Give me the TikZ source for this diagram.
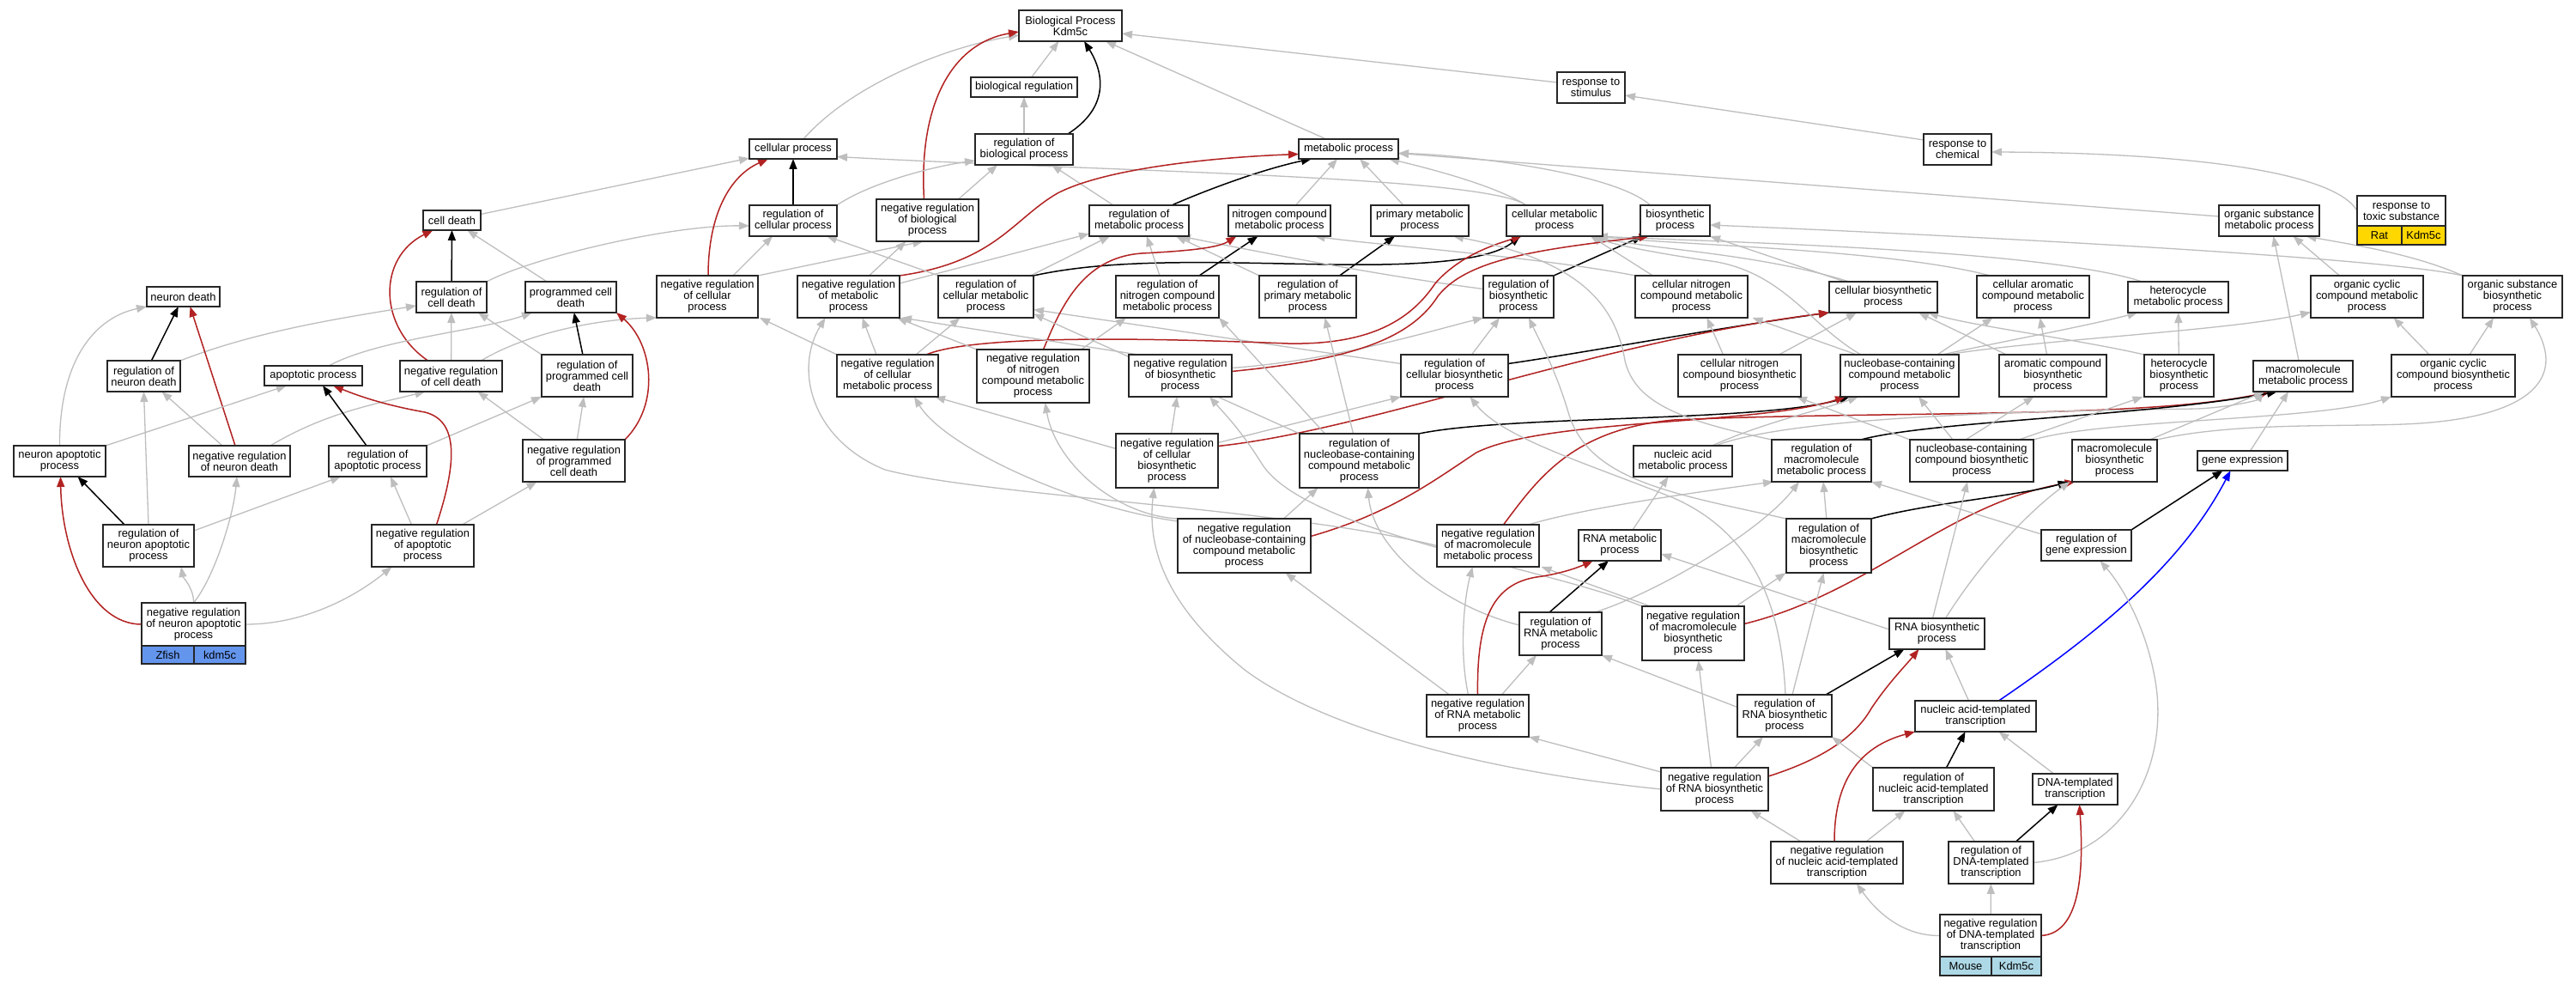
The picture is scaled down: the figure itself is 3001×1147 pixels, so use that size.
\documentclass[tikz,border=0pt]{standalone}
\usepackage{fontspec}
\setmainfont{Liberation Sans}
\usetikzlibrary{arrows.meta}
\definecolor{eg}{HTML}{BEBEBE}
\definecolor{fire}{HTML}{B22222}
\definecolor{zfish}{HTML}{6495ED}
\definecolor{mousec}{HTML}{ADD8E6}
\definecolor{ratc}{HTML}{FFD700}
\pgfdeclarelayer{bgl}
\pgfdeclarelayer{edges}
\pgfsetlayers{bgl,edges,main}
\newcommand{\gb}[7][]{%
 \pgfmathsetmacro{\gbw}{#4-#3}\pgfmathsetmacro{\gbh}{#6-#5}%
 \pgfmathsetmacro{\gbx}{(#3+#4)/2}\pgfmathsetmacro{\gby}{(#5+#6)/2}%
 \node[gbox, minimum width=\gbw pt, minimum height=\gbh pt, #1] (#2) at (\gbx,\gby) {#7};}
\begin{document}
\begin{tikzpicture}[x=1pt,y=-1pt,
 gbox/.style={draw=black!85, line width=1.4pt, fill=white, inner sep=0pt, outer sep=0pt, align=center, font=\fontsize{12.9}{13}\selectfont},
 tip/.style={-{Triangle[length=12pt,width=9pt]}},
 ge/.style={draw=eg, line width=1.3pt, tip},
 be/.style={draw=black, line width=1.5pt, tip},
 re/.style={draw=fire, line width=1.5pt, tip},
 ue/.style={draw=blue, line width=1.5pt, tip}]
\begin{pgfonlayer}{bgl}
\fill[white] (0,0) rectangle (3001,1147);
\end{pgfonlayer}
\useasboundingbox (0,0) rectangle (3001,1147);
% ---------- nodes ----------
\gb{BP}{1187}{1307}{12}{48}{Biological Process\\Kdm5c}
\gb{biolreg}{1131}{1255}{90}{113}{biological regulation}
\gb{respstim}{1814}{1893}{84}{120}{response to\\stimulus}
\gb{cellproc}{873}{975}{162}{185}{cellular process}
\gb{regbio}{1136}{1250}{156}{192}{regulation of\\biological process}
\gb{metproc}{1513}{1629}{162}{185}{metabolic process}
\gb{respchem}{2241}{2320}{156}{192}{response to\\chemical}
\gb{celldeath}{493}{560}{245}{268}{cell death}
\gb{regcell}{873}{975}{239}{275}{regulation of\\cellular process}
\gb{negbio}{1021}{1140}{232}{281}{negative regulation\\of biological\\process}
\gb{regmet}{1269}{1385}{239}{275}{regulation of\\metabolic process}
\gb{nitro}{1431}{1550}{239}{275}{nitrogen compound\\metabolic process}
\gb{primmet}{1597}{1711}{239}{275}{primary metabolic\\process}
\gb{cellmet}{1755}{1867}{239}{275}{cellular metabolic\\process}
\gb{biosyn}{1911}{1992}{239}{275}{biosynthetic\\process}
\gb{orgsubmet}{2585}{2702}{239}{275}{organic substance\\metabolic process}
\gb{toxic}{2746}{2849}{228}{263}{response to\\toxic substance}
\gb[fill=ratc]{toxicA}{2746}{2798}{263}{285}{Rat}
\gb[fill=ratc]{toxicB}{2798}{2849}{263}{285}{Kdm5c}
\gb{neurondeath}{171}{256}{334}{357}{neuron death}
\gb{regcd}{485}{567}{328}{364}{regulation of\\cell death}
\gb{pcd}{612}{718}{328}{364}{programmed cell\\death}
\gb{negcellproc}{765}{883}{321}{370}{negative regulation\\of cellular\\process}
\gb{negmet}{929}{1048}{321}{370}{negative regulation\\of metabolic\\process}
\gb{regcellmet}{1093}{1204}{321}{370}{regulation of\\cellular metabolic\\process}
\gb{regnitro}{1300}{1420}{321}{370}{regulation of\\nitrogen compound\\metabolic process}
\gb{regprim}{1467}{1580}{321}{370}{regulation of\\primary metabolic\\process}
\gb{regbiosyn}{1728}{1810}{321}{370}{regulation of\\biosynthetic\\process}
\gb{cellnitromet}{1905}{2036}{321}{370}{cellular nitrogen\\compound metabolic\\process}
\gb{cellbiosyn}{2131}{2257}{328}{364}{cellular biosynthetic\\process}
\gb{cellarom}{2303}{2434}{321}{370}{cellular aromatic\\compound metabolic\\process}
\gb{hetmet}{2479}{2596}{328}{364}{heterocycle\\metabolic process}
\gb{orgcycmet}{2692}{2823}{321}{370}{organic cyclic\\compound metabolic\\process}
\gb{orgsubbio}{2869}{2985}{321}{370}{organic substance\\biosynthetic\\process}
\gb{regnd}{125}{210}{420}{456}{regulation of\\neuron death}
\gb{apop}{308}{422}{426}{449}{apoptotic process}
\gb{negcd}{466}{585}{420}{456}{negative regulation\\of cell death}
\gb{regpcd}{631}{737}{413}{462}{regulation of\\programmed cell\\death}
\gb{negcellmet}{975}{1093}{413}{462}{negative regulation\\of cellular\\metabolic process}
\gb{negnitro}{1138}{1269}{407}{469}{negative regulation\\of nitrogen\\compound metabolic\\process}
\gb{negbiosyn}{1315}{1435}{413}{462}{negative regulation\\of biosynthetic\\process}
\gb{regcellbiosyn}{1632}{1757}{413}{462}{regulation of\\cellular biosynthetic\\process}
\gb{cellnitrobio}{1955}{2098}{413}{462}{cellular nitrogen\\compound biosynthetic\\process}
\gb{nucmet}{2144}{2282}{413}{462}{nucleobase-containing\\compound metabolic\\process}
\gb{arombio}{2329}{2454}{413}{462}{aromatic compound\\biosynthetic\\process}
\gb{hetbio}{2498}{2579}{413}{462}{heterocycle\\biosynthetic\\process}
\gb{macromet}{2625}{2741}{420}{456}{macromolecule\\metabolic process}
\gb{orgcycbio}{2786}{2930}{413}{462}{organic cyclic\\compound biosynthetic\\process}
\gb{neuronapop}{16}{123}{519}{555}{neuron apoptotic\\process}
\gb{negnd}{220}{338}{519}{555}{negative regulation\\of neuron death}
\gb{regapop}{383}{497}{519}{555}{regulation of\\apoptotic process}
\gb{negpcd}{609}{728}{512}{561}{negative regulation\\of programmed\\cell death}
\gb{negcellbiosyn}{1300}{1419}{505}{568}{negative regulation\\of cellular\\biosynthetic\\process}
\gb{regnucmet}{1514}{1653}{505}{568}{regulation of\\nucleobase-containing\\compound metabolic\\process}
\gb{nucacidmet}{1903}{2018}{519}{555}{nucleic acid\\metabolic process}
\gb{regmacromet}{2064}{2180}{512}{561}{regulation of\\macromolecule\\metabolic process}
\gb{nucbio}{2225}{2369}{512}{561}{nucleobase-containing\\compound biosynthetic\\process}
\gb{macrobio}{2414}{2513}{512}{561}{macromolecule\\biosynthetic\\process}
\gb{geneexp}{2560}{2665}{525}{548}{gene expression}
\gb{regneuronapop}{120}{226}{611}{660}{regulation of\\neuron apoptotic\\process}
\gb{negapop}{433}{552}{611}{660}{negative regulation\\of apoptotic\\process}
\gb{negnucmet}{1372}{1527}{604}{667}{negative regulation\\of nucleobase-containing\\compound metabolic\\process}
\gb{negmacromet}{1674}{1793}{611}{660}{negative regulation\\of macromolecule\\metabolic process}
\gb{rnamet}{1839}{1935}{617}{653}{RNA metabolic\\process}
\gb{regmacrobio}{2081}{2180}{604}{667}{regulation of\\macromolecule\\biosynthetic\\process}
\gb{reggeneexp}{2378}{2483}{617}{653}{regulation of\\gene expression}
\gb{negneuronapop}{165}{286}{702}{752}{negative regulation\\of neuron apoptotic\\process}
\gb[fill=zfish]{negneuronapopA}{165}{226}{752}{773}{Zfish}
\gb[fill=zfish]{negneuronapopB}{226}{286}{752}{773}{kdm5c}
\gb{regrnamet}{1770}{1866}{713}{763}{regulation of\\RNA metabolic\\process}
\gb{negmacrobio}{1913}{2032}{706}{769}{negative regulation\\of macromolecule\\biosynthetic\\process}
\gb{rnabio}{2201}{2312}{720}{756}{RNA biosynthetic\\process}
\gb{negrnamet}{1662}{1781}{809}{858}{negative regulation\\of RNA metabolic\\process}
\gb{regrnabio}{2024}{2134}{809}{858}{regulation of\\RNA biosynthetic\\process}
\gb{natrans}{2231}{2372}{816}{852}{nucleic acid-templated\\transcription}
\gb{negrnabio}{1935}{2060}{894}{944}{negative regulation\\of RNA biosynthetic\\process}
\gb{regnatrans}{2182}{2323}{894}{944}{regulation of\\nucleic acid-templated\\transcription}
\gb{dnatrans}{2368}{2467}{901}{937}{DNA-templated\\transcription}
\gb{negnatrans}{2063}{2217}{980}{1029}{negative regulation\\of nucleic acid-templated\\transcription}
\gb{regdnatrans}{2270}{2369}{980}{1029}{regulation of\\DNA-templated\\transcription}
\gb{negdnatrans}{2260}{2378}{1065}{1114}{negative regulation\\of DNA-templated\\transcription}
\gb[fill=mousec]{negdnatransA}{2260}{2320}{1114}{1136}{Mouse}
\gb[fill=mousec]{negdnatransB}{2320}{2378}{1114}{1136}{Kdm5c}
% ---------- edges ----------
\begin{pgfonlayer}{edges}
% left cluster
\draw[ge] (celldeath) -- (cellproc);
\draw[be] (regcd) -- (celldeath);
\draw[ge] (regcd.north east) .. controls (620,300) and (780,262) .. ([yshift=-6pt]regcell.west);
\draw[ge] (pcd) -- (celldeath);
\draw[re] ([xshift=-27pt]negcd.north) .. controls (440,380) and (440,300) .. ([xshift=-22pt]celldeath.south);
\draw[ge] (negcd) -- (regcd);
\draw[ge] ([xshift=35pt]negcd.north) .. controls (610,390) and (690,372) .. (negcellproc.south west);
\draw[be] (regnd) -- (neurondeath);
\draw[ge] (regnd.north east) .. controls (300,385) and (400,370) .. ([yshift=-10pt]regcd.west);
\draw[re] ([xshift=-5pt]negnd.north) -- ([xshift=8pt]neurondeath.south);
\draw[ge] ([xshift=-20pt]negnd.north) -- ([xshift=21pt]regnd.south);
\draw[ge] ([xshift=36pt]negnd.north) .. controls (380,480) and (440,470) .. ([xshift=-30pt]negcd.south);
\draw[ge] (neuronapop.north) .. controls (69,420) and (110,370) .. (neurondeath.south west);
\draw[ge] (neuronapop.north east) -- ([xshift=-31pt]apop.south);
\draw[ge] ([xshift=18pt]apop.north) .. controls (440,395) and (560,385) .. ([xshift=-45pt]pcd.south);
\draw[be] ([xshift=-13pt]regapop.north) -- ([xshift=11pt]apop.south);
\draw[ge] (regapop.north east) -- (regpcd.south west);
\draw[be] (regpcd) -- (pcd);
\draw[ge] (regpcd.north west) -- ([xshift=-10pt]regcd.south east);
\draw[re] (negpcd.north east) .. controls (770,470) and (760,400) .. (pcd.south east);
\draw[ge] (negpcd) -- (regpcd);
\draw[ge] ([xshift=-35pt]negpcd.north) -- ([xshift=31pt]negcd.south);
\draw[re] ([xshift=16pt]negapop.north) .. controls (532,540) and (535,490) .. (495,480) .. controls (450,472) and (420,462) .. ([xshift=23pt]apop.south);
\draw[ge] ([xshift=-13pt]negapop.north) -- ([xshift=15pt]regapop.south);
\draw[ge] ([xshift=46pt]negapop.north) -- ([xshift=-43pt]negpcd.south);
\draw[be] ([xshift=-28pt]regneuronapop.north) -- ([xshift=21pt]neuronapop.south);
\draw[ge] (regneuronapop.north) -- (regnd.south);
\draw[ge] ([yshift=-7pt]regneuronapop.north east) -- ([xshift=-43pt]regapop.south);
\draw[re] (negneuronapop.west) .. controls (105,727) and (72,640) .. ([xshift=1pt]neuronapop.south);
\draw[ge] (negneuronapop.north) .. controls (226,685) and (213,672) .. ([xshift=38pt]regneuronapop.south);
\draw[ge] (negneuronapop.north) .. controls (250,672) and (272,600) .. ([xshift=-3pt]negnd.south);
\draw[ge] (negneuronapop.east) .. controls (360,727) and (420,690) .. ([xshift=-36pt]negapop.south);
% top
\draw[ge] ([xshift=12pt]cellproc.north) .. controls (990,100) and (1100,55) .. ([yshift=-11pt]BP.west);
\draw[re] ([xshift=-4pt]negbio.north) .. controls (1070,120) and (1110,50) .. ([yshift=-7pt]BP.west);
\draw[ge] (biolreg) -- (BP);
\draw[ge] (regbio) -- (biolreg);
\draw[be] ([xshift=51pt]regbio.north) .. controls (1300,120) and (1280,75) .. ([xshift=16pt]BP.south);
\draw[ge] ([xshift=-26pt]metproc.north) -- ([xshift=41pt]BP.south);
\draw[ge] ([yshift=6pt]respstim.west) -- ([yshift=-9pt]BP.east);
\draw[ge] ([yshift=11pt]respchem.west) -- ([yshift=-9pt]respstim.east);
\draw[ge] (toxic.west) .. controls (2720,200) and (2550,178) .. ([yshift=-3pt]respchem.east);
\draw[be] (regcell) -- (cellproc);
\draw[ge] (regcell.north east) .. controls (1010,215) and (1080,195) .. ([yshift=-13pt]regbio.west);
\draw[re] ([xshift=1pt]negcellproc.north) .. controls (825,250) and (850,205) .. ([xshift=-29pt]cellproc.south);
\draw[ge] ([xshift=30pt]negcellproc.north) -- ([xshift=-24pt]regcell.south);
\draw[ge] (negcellproc.north east) -- ([xshift=-5pt]negbio.south);
\draw[ge] ([xshift=36pt]negbio.north) -- ([xshift=-31pt]regbio.south);
\draw[ge] ([xshift=-30pt]regmet.north) -- ([xshift=32pt]regbio.south);
\draw[be] ([xshift=38pt]regmet.north) .. controls (1420,215) and (1480,195) .. ([xshift=-43pt]metproc.south);
\draw[ge] ([xshift=19pt]nitro.north) -- ([xshift=-13pt]metproc.south);
\draw[ge] ([xshift=-19pt]primmet.north) -- ([xshift=13pt]metproc.south);
\draw[ge] ([xshift=-33pt]cellmet.north) .. controls (1740,215) and (1660,195) .. ([xshift=47pt]metproc.south);
\draw[ge] ([xshift=-33pt]cellmet.north) .. controls (1730,205) and (1300,200) .. ([yshift=-9pt]cellproc.east);
\draw[ge] ([xshift=-29pt]biosyn.north) .. controls (1880,200) and (1700,180) .. ([yshift=-5pt]metproc.east);
\draw[ge] ([yshift=5pt]orgsubmet.west) -- ([yshift=-5pt]metproc.east);
\draw[re] (negmet.north east) .. controls (1160,305) and (1180,255) .. (1232,225) .. controls (1290,195) and (1420,183) .. ([yshift=-6pt]metproc.west);
\draw[ge] (negmet) -- (regmet);
\draw[ge] ([xshift=24pt]negmet.north) -- ([xshift=-25pt]negbio.south);
\draw[ge] ([xshift=52pt]regcellmet.north) -- ([xshift=-34pt]regmet.south);
\draw[ge] ([xshift=-55pt]regcellmet.north) -- ([xshift=39pt]regcell.south);
\draw[be] (regcellmet.north east) .. controls (1300,300) and (1420,306) .. (1550,308) .. controls (1680,310) and (1740,300) .. ([xshift=-40pt]cellmet.south);
\draw[be] ([xshift=37pt]regnitro.north) -- ([xshift=-25pt]nitro.south);
\draw[ge] ([xshift=-9pt]regnitro.north) -- ([xshift=9pt]regmet.south);
\draw[be] ([xshift=37pt]regprim.north) -- ([xshift=-29pt]primmet.south);
\draw[ge] (regprim.north west) -- ([xshift=43pt]regmet.south);
\draw[be] (regbiosyn.north east) -- ([xshift=-38pt]biosyn.south);
\draw[ge] ([yshift=9pt]regbiosyn.west) .. controls (1600,320) and (1450,290) .. ([xshift=48pt]regmet.south);
\draw[ge] (cellnitromet.north west) .. controls (1800,300) and (1600,285) .. ([xshift=41pt]nitro.south);
\draw[ge] ([xshift=-45pt]cellnitromet.north) -- ([xshift=42pt]cellmet.south);
\draw[ge] ([xshift=-45pt]cellbiosyn.north) -- (biosyn.south east);
\draw[ge] ([xshift=-40pt]cellbiosyn.north) .. controls (2050,295) and (1920,290) .. ([xshift=45pt]cellmet.south);
\draw[ge] ([xshift=-50pt]cellarom.north) .. controls (2200,290) and (1950,285) .. ([xshift=48pt]cellmet.south);
\draw[ge] ([xshift=-42pt]hetmet.north) .. controls (2380,290) and (2000,282) .. ([xshift=50pt]cellmet.south);
\draw[ge] ([xshift=-32pt]orgcycmet.north) -- ([xshift=28pt]orgsubmet.south);
\draw[ge] (orgsubbio.north west) .. controls (2810,295) and (2740,285) .. ([xshift=43pt]orgsubmet.south);
\draw[ge] (orgsubbio.north west) .. controls (2780,300) and (2300,275) .. ([yshift=-5pt]biosyn.east);
\draw[ge] ([xshift=-5pt]macromet.north) -- ([xshift=5pt]orgsubmet.south);
% row 5
\draw[ge] ([xshift=20pt]regcellbiosyn.north) -- ([xshift=-22pt]regbiosyn.south);
\draw[be] ([yshift=14pt]regcellbiosyn.east) .. controls (1850,410) and (2000,382) .. (cellbiosyn.south west);
\draw[ge] ([yshift=14pt]regcellbiosyn.west) -- ([yshift=-15pt]regcellmet.east);
\draw[ge] ([xshift=-13pt]negcellmet.north) -- ([xshift=16pt]negmet.south);
\draw[ge] ([xshift=33pt]negcellmet.north) -- ([xshift=-30pt]regcellmet.south);
\draw[re] ([xshift=45pt]negcellmet.north) .. controls (1130,392) and (1300,392) .. (1500,400) .. controls (1600,402) and (1645,370) .. (1672,330) .. controls (1700,298) and (1740,285) .. ([xshift=-38pt]cellmet.south);
\draw[ge] (negcellmet.north west) -- ([xshift=2pt]negcellproc.south east);
\draw[re] ([xshift=12pt]negnitro.north) .. controls (1235,360) and (1260,300) .. (1330,295) .. controls (1390,292) and (1420,288) .. ([xshift=-50pt]nitro.south);
\draw[ge] (negnitro.north west) -- ([xshift=-3pt]negmet.south east);
\draw[ge] ([xshift=56pt]negnitro.north) -- ([xshift=-48pt]regnitro.south);
\draw[ge] ([xshift=-49pt]negbiosyn.north) -- ([xshift=2pt]negmet.south east);
\draw[ge] ([yshift=9pt]negbiosyn.east) .. controls (1550,420) and (1650,390) .. (regbiosyn.south west);
\draw[re] ([yshift=5pt]negbiosyn.east) .. controls (1560,420) and (1640,400) .. (1675,345) .. controls (1710,300) and (1800,290) .. ([xshift=-30pt]biosyn.south);
\draw[ge] ([yshift=14pt]negcellbiosyn.west) -- ([xshift=55pt]negcellmet.south);
\draw[ge] (negcellbiosyn) -- (negbiosyn);
\draw[ge] ([yshift=21pt]negcellbiosyn.east) -- (regcellbiosyn.south west);
\draw[re] ([yshift=17pt]negcellbiosyn.east) .. controls (1600,500) and (1850,400) .. (cellbiosyn.south west);
% row 6+
\draw[be] (regnucmet.north east) .. controls (1760,483) and (2050,492) .. ([xshift=-58pt]nucmet.south);
\draw[ge] (regnucmet.north west) -- ([yshift=-20pt]regcellmet.east);
\draw[ge] ([xshift=-7pt]regnucmet.north) -- ([xshift=20pt]regprim.south);
\draw[ge] ([xshift=-40pt]regnucmet.north) -- (regnitro.south east);
\draw[ge] ([xshift=46pt]negnucmet.north) -- ([xshift=-48pt]regnucmet.south);
\draw[re] ([yshift=11pt]negnucmet.east) .. controls (1620,598) and (1670,560) .. (1720,527) .. controls (1800,487) and (2050,495) .. ([xshift=-63pt]nucmet.south);
\draw[ge] ([yshift=-3pt]negnucmet.north west) .. controls (1250,590) and (1100,520) .. ([xshift=31pt]negcellmet.south);
\draw[ge] (negnucmet.north west) .. controls (1300,600) and (1230,540) .. ([xshift=14pt]negnitro.south);
\draw[ge] (negmacromet.west) .. controls (1500,592) and (1150,578) .. (1031,547) .. controls (945,512) and (925,430) .. ([xshift=-27pt]negmet.south);
\draw[ge] ([xshift=47pt]negmacromet.north) .. controls (1850,590) and (2000,570) .. ([xshift=-56pt]regmacromet.south);
\draw[re] ([xshift=18pt]negmacromet.north) .. controls (1790,560) and (1830,500) .. (1950,489) .. controls (2200,478) and (2500,488) .. ([xshift=-38pt]macromet.south);
\draw[ge] ([xshift=15pt]rnamet.north) -- ([xshift=-17pt]nucacidmet.south);
\draw[ge] ([xshift=34pt]nucacidmet.north) .. controls (2060,490) and (2120,478) .. ([xshift=-48pt]nucmet.south);
\draw[ge] ([xshift=38pt]nucacidmet.north) .. controls (2100,480) and (2450,478) .. (2560,476) .. controls (2600,474) and (2630,466) .. ([xshift=-46pt]macromet.south);
\draw[ge] ([xshift=-45pt]nucmet.north) .. controls (2110,380) and (2080,320) .. (2000,305) .. controls (1930,295) and (1880,285) .. ([xshift=46pt]cellmet.south);
\draw[be] ([xshift=-13pt]regrnamet.north) -- ([xshift=-13pt]rnamet.south);
\draw[ge] ([yshift=10pt]regrnamet.west) .. controls (1680,705) and (1600,640) .. ([xshift=10pt]regnucmet.south);
\draw[ge] ([xshift=40pt]regrnamet.north) .. controls (1930,690) and (2050,620) .. ([xshift=-26pt]regmacromet.south);
\draw[ge] ([xshift=50pt]negmacrobio.north) -- ([xshift=-50pt]regmacrobio.south);
\draw[re] ([yshift=11pt]negmacrobio.east) .. controls (2180,690) and (2270,585) .. ([xshift=-46pt]macrobio.south);
\draw[ge] (negmacrobio.north west) .. controls (1800,660) and (1520,620) .. (1470,540) .. controls (1445,500) and (1425,480) .. ([xshift=34pt]negbiosyn.south);
\draw[ge] ([xshift=-50pt]negmacrobio.north) -- ([xshift=62pt]negmacromet.south);
\draw[ge] (regmacrobio) -- (regmacromet);
\draw[be] (regmacrobio.north east) .. controls (2250,585) and (2350,578) .. ([xshift=-54pt]macrobio.south);
\draw[ge] (regmacrobio.north west) .. controls (1950,575) and (1850,560) .. (1827,480) .. controls (1812,430) and (1795,400) .. ([xshift=12pt]regbiosyn.south);
\draw[be] ([xshift=46pt]regmacromet.north) .. controls (2250,490) and (2500,485) .. ([xshift=-30pt]macromet.south);
\draw[ge] (regmacromet.north west) .. controls (1960,490) and (1905,470) .. (1893,420) .. controls (1880,340) and (1820,300) .. ([xshift=39pt]primmet.south);
\draw[be] ([xshift=48pt]regrnabio.north) -- ([xshift=-38pt]rnabio.south);
\draw[ge] ([yshift=10pt]regrnabio.west) -- (regrnamet.south east);
\draw[ge] ([xshift=9pt]regrnabio.north) -- ([xshift=-6pt]regmacrobio.south);
\draw[ge] ([xshift=1pt]regrnabio.north) .. controls (2075,700) and (2040,620) .. (1950,580) .. controls (1850,540) and (1750,510) .. ([xshift=18pt]regcellbiosyn.south);
\draw[re] (negrnamet.north) .. controls (1720,720) and (1740,680) .. (1790,672) .. controls (1820,668) and (1840,660) .. ([xshift=-31pt]rnamet.south);
\draw[ge] ([xshift=28pt]negrnamet.north) -- ([xshift=-28pt]regrnamet.south);
\draw[ge] ([xshift=-11pt]negrnamet.north) .. controls (1700,760) and (1705,700) .. ([xshift=-18pt]negmacromet.south);
\draw[ge] ([xshift=-33pt]negrnamet.north) -- ([xshift=48pt]negnucmet.south);
\draw[ge] ([xshift=23pt]negrnabio.north) -- ([xshift=-25pt]regrnabio.south);
\draw[ge] ([yshift=20pt]negrnabio.west) -- (negrnamet.south east);
\draw[ge] ([xshift=-4pt]negrnabio.north) -- ([xshift=6pt]negmacrobio.south);
\draw[re] ([yshift=15pt]negrnabio.east) .. controls (2120,885) and (2160,860) .. (2180,825) .. controls (2200,795) and (2220,775) .. ([xshift=-21pt]rnabio.south);
\draw[ge] (negrnabio.west) .. controls (1700,895) and (1530,840) .. (1450,780) .. controls (1370,715) and (1335,650) .. ([xshift=-15pt]negcellbiosyn.south);
\draw[ge] ([xshift=-8pt]natrans.north) -- ([xshift=10pt]rnabio.south);
\draw[ue] ([xshift=27pt]natrans.north) .. controls (2440,740) and (2540,660) .. ([xshift=-14pt]geneexp.south);
\draw[be] ([xshift=15pt]regnatrans.north) -- ([xshift=-12pt]natrans.south);
\draw[ge] (regnatrans.north west) -- ([xshift=55pt]regrnabio.south);
\draw[ge] ([xshift=-25pt]dnatrans.north) -- ([xshift=27pt]natrans.south);
\draw[ge] ([xshift=-42pt]negnatrans.north) -- ([xshift=42pt]negrnabio.south);
\draw[ge] ([xshift=34pt]negnatrans.north) -- ([xshift=-33pt]regnatrans.south);
\draw[re] ([xshift=-3pt]negnatrans.north) .. controls (2137,910) and (2165,870) .. (natrans.south west);
\draw[ge] ([xshift=-19pt]regdnatrans.north) -- ([xshift=23pt]regnatrans.south);
\draw[be] ([xshift=29pt]regdnatrans.north) -- ([xshift=-20pt]dnatrans.south);
\draw[ge] (regdnatrans.east) .. controls (2470,995) and (2525,900) .. (2512,800) .. controls (2502,730) and (2470,680) .. ([xshift=16pt]reggeneexp.south);
\draw[ge] (negdnatrans) -- (regdnatrans);
\draw[re] (negdnatrans.east) .. controls (2422,1087) and (2428,1020) .. ([xshift=5pt]dnatrans.south);
\draw[ge] (negdnatrans.west) .. controls (2215,1090) and (2185,1060) .. ([xshift=23pt]negnatrans.south);
\draw[be] (reggeneexp.north east) -- ([xshift=-23pt]geneexp.south);
\draw[ge] ([yshift=13pt]reggeneexp.west) -- (regmacromet.south east);
\draw[ge] ([xshift=9pt]geneexp.north) -- ([xshift=-17pt]macromet.south);
\draw[ge] ([xshift=41pt]macrobio.north) -- ([xshift=-45pt]macromet.south);
\draw[ge] (macrobio.north east) .. controls (2600,492) and (2720,497) .. (2800,494) .. controls (2950,488) and (2990,440) .. ([xshift=20pt]orgsubbio.south);
\draw[ge] ([xshift=-22pt]nucbio.north) -- ([xshift=22pt]nucmet.south);
\draw[ge] ([xshift=-7pt]nucbio.north) -- ([xshift=-22pt]arombio.south);
\draw[ge] ([xshift=55pt]nucbio.north) -- ([xshift=-42pt]hetbio.south);
\draw[ge] (nucbio.north east) .. controls (2450,488) and (2700,490) .. (orgcycbio.south west);
\draw[ge] (nucbio.north west) -- ([xshift=-5pt]cellnitrobio.south east);
\draw[ge] ([yshift=5pt]rnabio.west) -- ([yshift=-10pt]rnamet.east);
\draw[ge] ([xshift=-5pt]rnabio.north) -- ([xshift=-5pt]nucbio.south);
\draw[ge] ([xshift=10pt]rnabio.north) .. controls (2310,650) and (2370,590) .. ([xshift=-52pt]macrobio.south);
\draw[ge] ([xshift=-19pt]cellnitrobio.north) -- ([xshift=18pt]cellnitromet.south);
\draw[ge] ([xshift=46pt]cellnitrobio.north) -- ([xshift=-31pt]cellbiosyn.south);
\draw[ge] ([xshift=-50pt]nucmet.north) -- ([xshift=71pt]cellnitromet.south);
\draw[ge] ([xshift=44pt]nucmet.north) -- ([xshift=-47pt]cellarom.south);
\draw[ge] ([xshift=50pt]nucmet.north) .. controls (2320,400) and (2430,380) .. ([xshift=-47pt]hetmet.south);
\draw[ge] ([xshift=55pt]nucmet.north) .. controls (2380,395) and (2600,385) .. ([yshift=-18pt]orgcycmet.west);
\draw[ge] ([xshift=-54pt]arombio.north) -- ([xshift=41pt]cellbiosyn.south);
\draw[ge] ([xshift=-7pt]arombio.north) -- ([xshift=8pt]cellarom.south);
\draw[ge] (hetbio) -- (hetmet);
\draw[ge] (hetbio.north west) .. controls (2420,395) and (2300,380) .. ([xshift=52pt]cellbiosyn.south);
\draw[ge] ([xshift=-28pt]orgcycbio.north) -- ([xshift=31pt]orgcycmet.south);
\draw[ge] ([xshift=19pt]orgcycbio.north) -- ([xshift=-22pt]orgsubbio.south);
\end{pgfonlayer}
\end{tikzpicture}
\end{document}
